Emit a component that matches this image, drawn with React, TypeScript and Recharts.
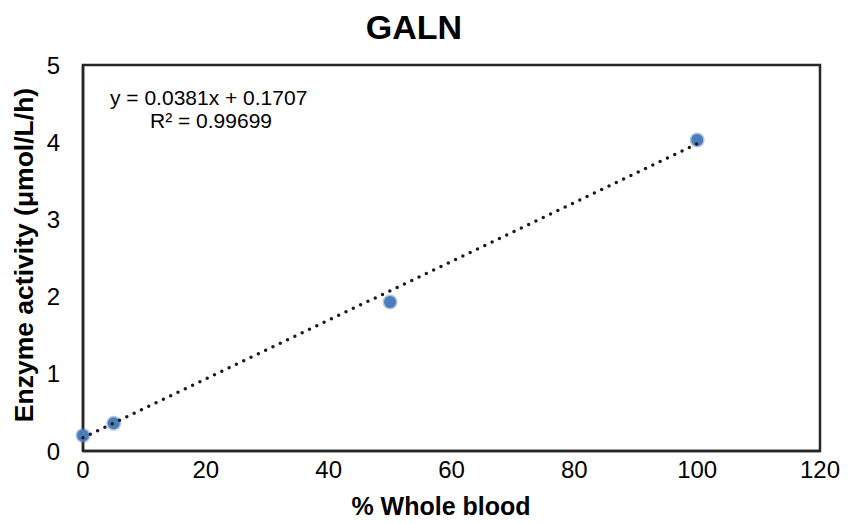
import { Customized, ReferenceArea, Scatter, ScatterChart, XAxis, YAxis } from "recharts";

const FONT = "'Liberation Sans', Arial, sans-serif";

const bloodPercent = [0, 5, 50, 100];
const activity = [0.2, 0.36, 1.93, 4.03];

// Excel linear trendline endpoints (y = 0.0381x + 0.1707)
const trendX = [0, 100];
const trendY = [0.1707, 3.9807];

const xTicks = [0, 20, 40, 60, 80, 100, 120];
const yTicks = [0, 1, 2, 3, 4, 5];

const points = bloodPercent.map((x, i) => ({ x, y: activity[i] }));
const trend = trendX.map((x, i) => ({ x, y: trendY[i] }));

const FRAME = "#262626";

function Texts() {
  return (
    <g fontFamily={FONT} fill="#000">
      <text x={414} y={39} textAnchor="middle" fontSize={34} fontWeight="bold">
        GALN
      </text>
      <text x={441} y={515} textAnchor="middle" fontSize={25} fontWeight="bold">
        % Whole blood
      </text>
      <text
        transform="translate(33, 255) rotate(-90)"
        textAnchor="middle"
        fontSize={26.5}
        fontWeight="bold"
      >
        Enzyme activity (μmol/L/h)
      </text>
      <text x={110} y={105} fontSize={21}>
        y = 0.0381x + 0.1707
      </text>
      <text x={150} y={128} fontSize={21}>
        R² = 0.99699
      </text>
    </g>
  );
}

const dot = (props: any) => (
  <g>
    <circle cx={props.cx} cy={props.cy} r={7.5} fill="#4f81bd" opacity={0.45} />
    <circle cx={props.cx} cy={props.cy} r={6} fill="#4a7ebb" />
  </g>
);

export default function App() {
  return (
    <div style={{ position: "absolute", left: 0, top: 0, width: 849, height: 524, background: "#fff" }}>
      <ScatterChart width={849} height={524} margin={{ top: 65, right: 29, bottom: 33, left: 23 }}>
        <XAxis
          type="number"
          dataKey="x"
          domain={[0, 120]}
          ticks={xTicks}
          tickLine={false}
          tickMargin={4}
          height={40}
          axisLine={{ stroke: FRAME, strokeWidth: 2.5 }}
          tick={{ fill: "#000", fontSize: 24, fontFamily: FONT }}
        />
        <YAxis
          type="number"
          dataKey="y"
          domain={[0, 5]}
          ticks={yTicks}
          tickLine={false}
          tickMargin={17}
          width={60}
          axisLine={{ stroke: FRAME, strokeWidth: 2.5 }}
          tick={{ fill: "#000", fontSize: 24, fontFamily: FONT }}
        />
        <ReferenceArea
          x1={xTicks[0]}
          x2={xTicks[xTicks.length - 1]}
          y1={yTicks[0]}
          y2={yTicks[yTicks.length - 1]}
          fill="none"
          fillOpacity={0}
          stroke={FRAME}
          strokeWidth={2.5}
          strokeOpacity={1}
        />
        <Scatter data={points} shape={dot} isAnimationActive={false} />
        <Scatter
          data={trend}
          line={{ stroke: "#1a1a1a", strokeWidth: 3.5, strokeDasharray: "0 8.1", strokeLinecap: "round" }}
          shape={() => <g />}
          isAnimationActive={false}
        />
        <Customized component={Texts} />
      </ScatterChart>
    </div>
  );
}
